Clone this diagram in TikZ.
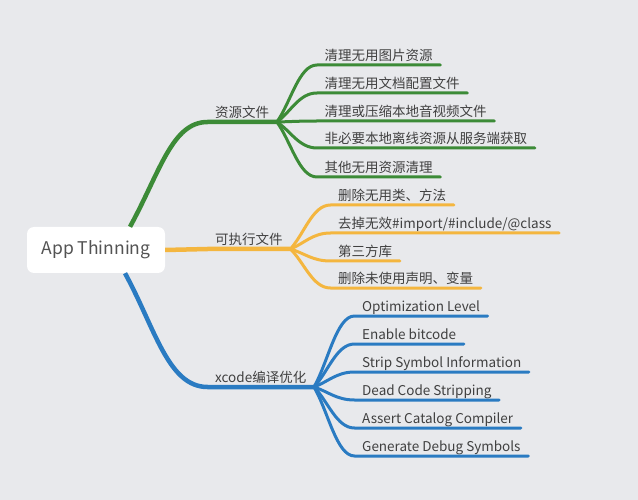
\documentclass[tikz,border=0pt]{standalone}
\usepackage{fontspec}
\setmainfont{Noto Sans CJK SC}
\usepackage{xcolor}
\usepackage{tikz}
\usetikzlibrary{positioning, calc}

\definecolor{paperGray}{HTML}{E8E9EC}
\definecolor{inkGray}{HTML}{404040}
\definecolor{resGreen}{HTML}{3C8B37}
\definecolor{exeOrange}{HTML}{F4B63F}
\definecolor{xcBlue}{HTML}{2A7BC2}

\begin{document}
\begin{tikzpicture}[x=1pt, y=-1pt,
  every node/.style={font=\fontsize{13.5}{16}\selectfont, text=inkGray},
  topic/.style={anchor=south west, inner xsep=7.5pt, inner ysep=1.5pt,
    text height=10pt, text depth=3pt},
  branch/.style={line width=4.5pt, line cap=butt},
  twig/.style={line width=3pt, line cap=round}]

  % Background and page size
  \fill[paperGray] (0,0) rectangle (638,500);
  \useasboundingbox (0,0) rectangle (638,500);

  % Central topic
  \node[fill=white, rounded corners=7pt, minimum width=138pt, minimum height=46pt,
    font=\fontsize{17.5}{21}\selectfont, text=inkGray!90] (root) at (96,250) {App Thinning};

  % Branch 1: resource files (green)
  \node[topic] (res) at (207.5,122) {资源文件};
  \draw[branch, resGreen] ([xshift=34pt]root.north) .. controls (160,172) and (172,122) .. (res.south west) -- (res.south east);
  \foreach \i/\ly/\txt in {1/65/清理无用图片资源, 2/93/清理无用文档配置文件,
      3/121/清理或压缩本地音视频文件, 4/148/非必要本地离线资源从服务端获取,
      5/177/其他无用资源清理} {
    \node[topic] (res\i) at (317,\ly) {\txt};
    \draw[twig, resGreen] (res.south east) .. controls ($(res.south east)!.35!(res\i.south west)$) and ($(res\i.south west)+(-18,0)$) .. (res\i.south west) -- (res\i.south east);
  }

  % Branch 2: executable (orange)
  \node[topic] (exe) at (207.5,249) {可执行文件};
  \draw[branch, exeOrange] (root.east) -- (exe.south west) -- (exe.south east);
  \foreach \i/\ly/\txt in {1/205/{删除无用类、方法}, 2/233/{去掉无效\#import/\#include/@class},
      3/261/{第三方库}, 4/288/{删除未使用声明、变量}} {
    \node[topic] (exe\i) at (330.5,\ly) {\txt};
    \draw[twig, exeOrange] (exe.south east) .. controls ($(exe.south east)!.35!(exe\i.south west)$) and ($(exe\i.south west)+(-18,0)$) .. (exe\i.south west) -- (exe\i.south east);
  }

  % Branch 3: xcode build options (blue)
  \node[topic] (xc) at (207.5,387) {xcode编译优化};
  \draw[branch, xcBlue] ([xshift=29pt]root.south) .. controls (155,328) and (168,387) .. (xc.south west) -- (xc.south east);
  \foreach \i/\ly/\txt in {1/316/Optimization Level, 2/344/Enable bitcode,
      3/372/Strip Symbol Information, 4/400/Dead Code Stripping,
      5/428/Assert Catalog Compiler, 6/456/Generate Debug Symbols} {
    \node[topic] (xc\i) at (354.5,\ly) {\txt};
    \draw[twig, xcBlue] (xc.south east) .. controls ($(xc.south east)!.35!(xc\i.south west)$) and ($(xc\i.south west)+(-18,0)$) .. (xc\i.south west) -- (xc\i.south east);
  }
\end{tikzpicture}
\end{document}
